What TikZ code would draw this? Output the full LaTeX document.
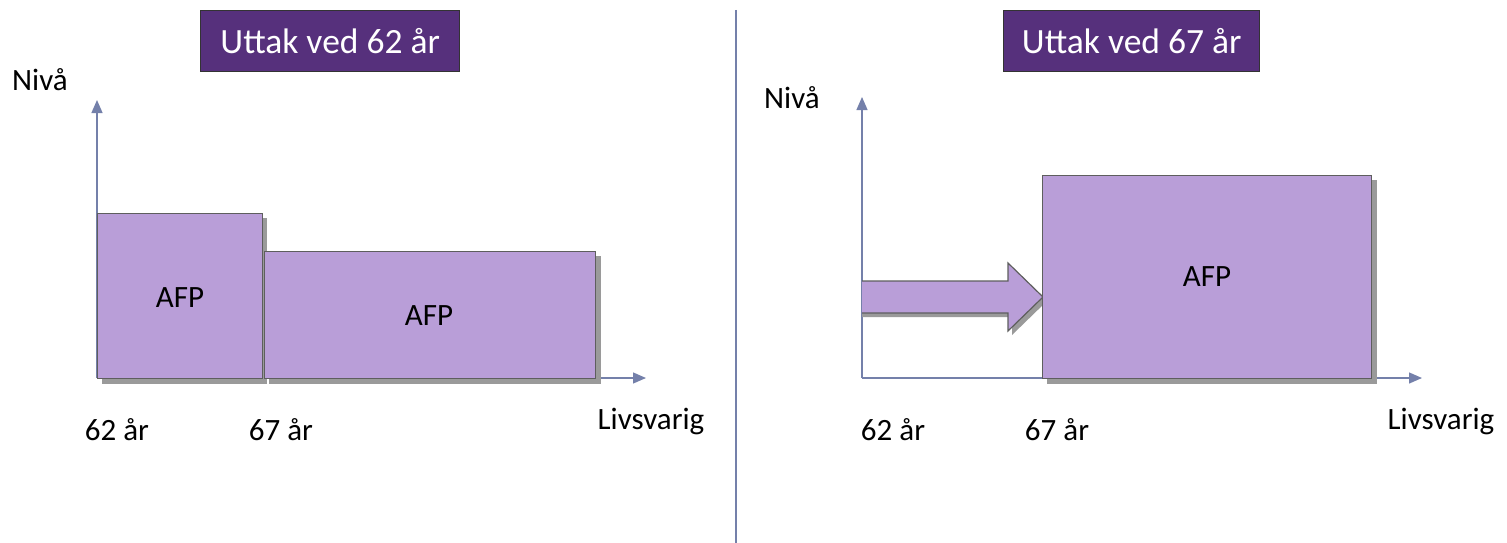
\documentclass[tikz,border=0pt]{standalone}
\usepackage{fontspec}
\setmainfont{Carlito}
\usetikzlibrary{arrows.meta}
\definecolor{titlepurple}{HTML}{56307C}
\definecolor{barfill}{HTML}{B99ED8}
\definecolor{axisblue}{HTML}{7480AA}
\definecolor{edgegray}{HTML}{5E5E5E}
\definecolor{shadowgray}{HTML}{9A9A9A}
\tikzset{
  titlebox/.style={draw=black!80, line width=1.4pt, fill=titlepurple, text=white, inner sep=0pt},
  axisline/.style={draw=axisblue, line width=1.3pt, -{Triangle[length=13pt,width=11pt]}},
  bar/.style={draw=edgegray, line width=1.2pt, fill=barfill},
  barshadow/.style={fill=shadowgray, draw=none},
  lbl/.style={font=\fontsize{31}{37}\selectfont, inner sep=0pt},
  titletext/.style={font=\fontsize{35.5}{42}\selectfont, text=white, inner sep=0pt}
}
\begin{document}
\begin{tikzpicture}[x=1pt, y=-1pt]
\useasboundingbox (0,0) rectangle (1507,543);
% divider
\draw[axisblue, line width=1.2pt] (736,10) -- (736,543);

% ---------- left panel ----------
\node[titlebox, minimum width=259pt, minimum height=61pt, anchor=north west] (t1) at (200,10) {};
\node[titletext] (t1txt) at (t1.center) {Uttak ved 62 år};
\node[lbl, anchor=west] (n1) at (12,80) {Nivå};
\coordinate (o1) at (97,378);
\coordinate (y1) at (97,100);
\coordinate (x1) at (646,378);
\draw[axisline] (o1) -- (y1);
\draw[axisline] (o1) -- (x1);
% shadows
\fill[barshadow] (102,218) rectangle (267,384);
\fill[barshadow] (269,256) rectangle (601,384);
\node[bar, minimum width=165pt, minimum height=165pt, anchor=north west] (r1) at (97,213) {};
\node[bar, minimum width=331pt, minimum height=127pt, anchor=north west] (r2) at (264,251) {};
\node[lbl] (a1) at (180,298) {AFP};
\node[lbl] (a2) at (429,316) {AFP};
\node[lbl] (l62a) at (117,430) {62 år};
\node[lbl] (l67a) at (281,430) {67 år};
\node[lbl] (liva) at (651,421) {Livsvarig};

% ---------- right panel ----------
\node[titlebox, minimum width=256pt, minimum height=61pt, anchor=north west] (t2) at (1003,10) {};
\node[titletext] (t2txt) at (t2.center) {Uttak ved 67 år};
\node[lbl, anchor=west] (n2) at (764,98) {Nivå};
\coordinate (o2) at (862,378);
\coordinate (y2) at (862,97);
\coordinate (x2) at (1422,378);
\draw[axisline] (o2) -- (y2);
\draw[axisline] (o2) -- (x2);
% block arrow shadow and arrow
\fill[shadowgray] (862,285) -- (1012,285) -- (1012,267) -- (1047,301) -- (1012,335) -- (1012,317) -- (862,317) -- cycle;
\draw[edgegray, line width=1.2pt, fill=barfill] (862,281) -- (1008,281) -- (1008,263) -- (1043,297) -- (1008,331) -- (1008,313) -- (862,313);
\fill[barshadow] (1047,180) rectangle (1377,384);
\node[bar, minimum width=329pt, minimum height=203pt, anchor=north west] (r3) at (1042,175) {};
\node[lbl] (a3) at (1207,277) {AFP};
\node[lbl] (l62b) at (893,430) {62 år};
\node[lbl] (l67b) at (1057,430) {67 år};
\node[lbl] (livb) at (1441,421) {Livsvarig};
\end{tikzpicture}
\end{document}
